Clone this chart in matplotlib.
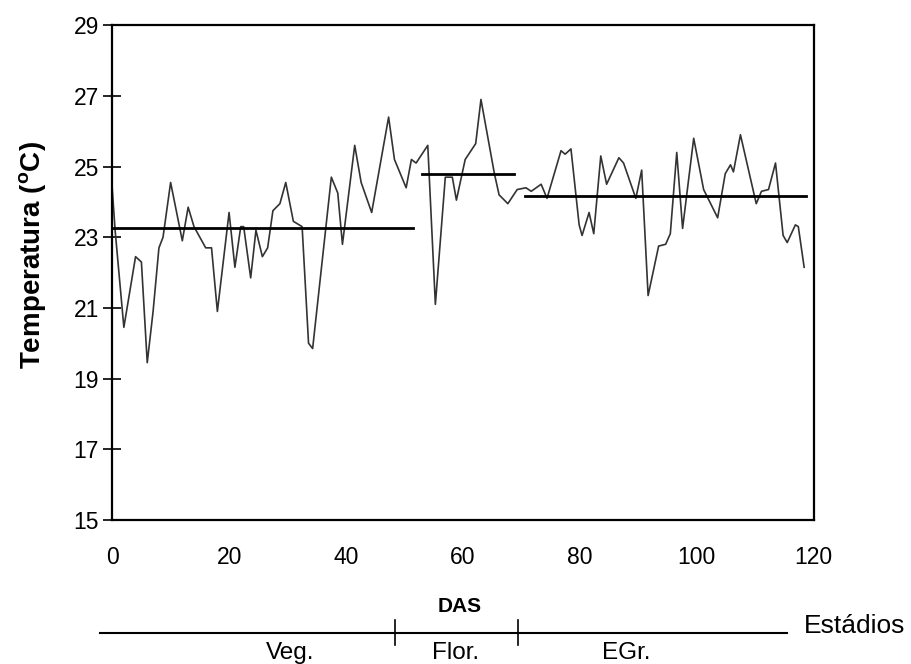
import matplotlib.pyplot as plt

plt.rcParams['font.family'] = ['Liberation Sans', 'DejaVu Sans']
plt.rcParams['mathtext.fontset'] = 'custom'
plt.rcParams['mathtext.rm'] = 'Liberation Sans:bold'

# temperatura média diária
dias = [0, 0.5, 2, 4, 5, 6, 7, 8, 8.7, 10, 12, 13, 14, 16, 17, 18, 20, 21, 22,
        22.5, 23.7, 24.6, 25.7, 26.6, 27.5, 28.7, 29.7, 31, 32.5, 33.6, 34.3,
        37.5, 38.6, 39.4, 41.5, 42.6, 44.4, 47.3, 48.3, 50.3, 51.2, 52, 54,
        55.3, 57, 58.2, 58.9, 60.4, 61.6, 62.2, 63.1, 65.4, 66.2, 67.7, 69.3,
        70.8, 71.7, 73.4, 74.4, 76.8, 77.5, 78.5, 79.9, 80.4, 81.6, 82.4,
        83.6, 84.6, 86.7, 87.5, 89.6, 90.6, 91.7, 93.5, 94.7, 95.5, 96.6,
        97.6, 99.5, 101.2, 103.6, 104.9, 105.8, 106.3, 107.5, 110.2, 111.1,
        112.3, 113.5, 114.8, 115.5, 116.9, 117.4, 118.4]
temp = [24.4, 23.2, 20.45, 22.45, 22.3, 19.45, 20.9, 22.7, 23.0, 24.55, 22.9,
        23.85, 23.3, 22.7, 22.7, 20.9, 23.7, 22.15, 23.3, 23.3, 21.85, 23.2,
        22.45, 22.7, 23.75, 23.95, 24.55, 23.45, 23.3, 20.0, 19.85, 24.7,
        24.25, 22.8, 25.6, 24.55, 23.7, 26.4, 25.2, 24.4, 25.2, 25.1, 25.6,
        21.1, 24.7, 24.7, 24.05, 25.2, 25.5, 25.65, 26.9, 24.8, 24.2, 23.95,
        24.35, 24.4, 24.3, 24.5, 24.1, 25.45, 25.35, 25.5, 23.35, 23.05,
        23.7, 23.1, 25.3, 24.5, 25.25, 25.1, 24.1, 24.9, 21.35, 22.75, 22.8,
        23.1, 25.4, 23.25, 25.8, 24.35, 23.55, 24.8, 25.05, 24.85, 25.9,
        23.95, 24.3, 24.35, 25.1, 23.05, 22.85, 23.35, 23.3, 22.15]

# médias por estádio
media = [23.26, 24.78, 24.17]
media_ini = [0, 53, 70.6]
media_fim = [51.4, 68.8, 118.8]

# estádios fenológicos
estadios = ['Veg.', 'Flor.', 'EGr.']
estadio_pos = [30.5, 58.8, 88]
estadio_div = [48.4, 69.5]

fig = plt.figure(figsize=(9.12, 6.64), dpi=100)
ax = fig.add_axes([0.123, 0.217, 0.769, 0.745])

ax.plot(dias, temp, color='#333333', lw=1.2)
for m, a, b in zip(media, media_ini, media_fim):
    ax.plot([a, b], [m, m], color='black', lw=2)

ax.set_xlim(0, 120)
ax.set_ylim(15, 29)
ax.set_yticks(range(15, 30, 2))
ax.set_xticks(range(0, 121, 20))
ax.tick_params(axis='y', direction='inout', length=13, width=1.2, labelsize=16.5, pad=3)
ax.tick_params(axis='x', length=0, labelsize=16.5, pad=19)
for s in ax.spines.values():
    s.set_linewidth(1.6)
ax.set_ylabel(r'Temperatura ($^{\mathrm{o}}$C)', fontsize=20, fontweight='bold')
ax.yaxis.set_label_coords(-0.09, 0.535)

# barra dos estádios
ax2 = fig.add_axes([0.123, 0.0, 0.769, 0.1])
ax2.set_xlim(0, 120)
ax2.set_ylim(0, 1)
ax2.axis('off')
ax2.plot([-2, 115.4], [0.467, 0.467], color='black', lw=1.5, clip_on=False)
for d in estadio_div:
    ax2.plot([d, d], [0.29, 0.66], color='black', lw=1.2, clip_on=False)
for nome, p in zip(estadios, estadio_pos):
    ax2.text(p, 0.17, nome, ha='center', va='center', fontsize=17.5)
ax2.text(59.5, 0.87, 'DAS', ha='center', va='center', fontsize=15, fontweight='bold')
ax2.text(118.3, 0.57, 'Estádios', ha='left', va='center', fontsize=19, clip_on=False)

fig.savefig('out.png', dpi=100)
